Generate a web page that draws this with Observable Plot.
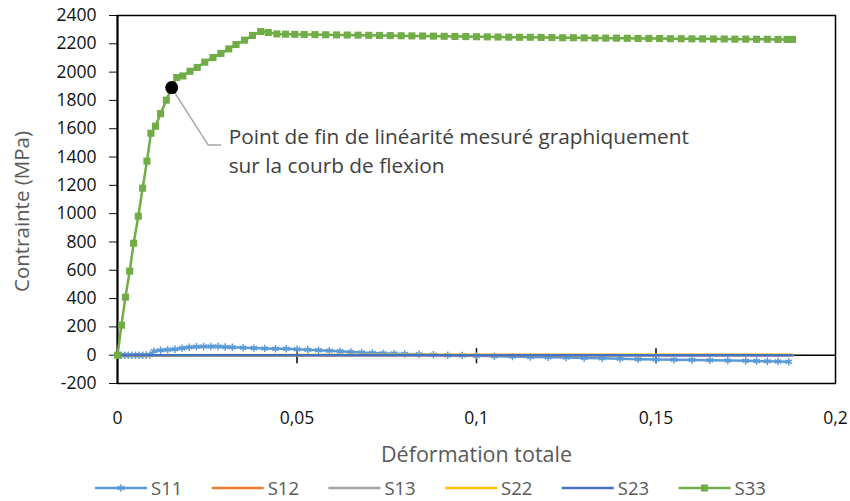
<!DOCTYPE html>
<html><head><meta charset="utf-8">
<script src="https://cdn.jsdelivr.net/npm/d3@7"></script>
<script src="https://cdn.jsdelivr.net/npm/@observablehq/plot@0.6"></script>
<style>body{margin:0;background:#fff;} #chart{width:850px;height:501px;overflow:hidden} #chart svg{display:block}</style>
</head><body><div id="chart"></div>
<script>
// ---- data ----
const seriesNames = ["S11", "S12", "S13", "S22", "S23", "S33"];
const seriesColors = ["#5B9BD5", "#ED7D31", "#A5A5A5", "#FFC000", "#4472C4", "#70AD47"];

const s33Strain = [0, 0.0011, 0.0022, 0.0034, 0.0045, 0.0058, 0.0070, 0.0082, 0.0093, 0.0106, 0.0120, 0.0136, 0.0151, 0.0165, 0.0182, 0.0202, 0.0222, 0.0243, 0.0266, 0.0288, 0.0310, 0.0330, 0.0354, 0.0376, 0.0399, 0.0420, 0.0444, 0.0468, 0.0494,
  0.052, 0.055, 0.058, 0.061, 0.064, 0.067, 0.070, 0.073, 0.076, 0.079, 0.082, 0.085, 0.088, 0.091, 0.094, 0.097, 0.100, 0.103, 0.106, 0.109, 0.112, 0.115, 0.118, 0.121, 0.124, 0.127, 0.130, 0.133, 0.136, 0.139, 0.142, 0.145, 0.148, 0.151, 0.154, 0.157, 0.160, 0.163, 0.166, 0.169, 0.172, 0.175, 0.178, 0.181, 0.184, 0.1865, 0.188];
const s33Stress = [0, 212, 410, 594, 791, 982, 1180, 1371, 1568, 1618, 1707, 1802, 1891, 1962, 1973, 2006, 2033, 2070, 2103, 2132, 2164, 2195, 2226, 2259, 2287, 2280, 2270, 2268, 2267,
  2266, 2265, 2264, 2263, 2262, 2261, 2260, 2259, 2258, 2257, 2256, 2255, 2254, 2253, 2252, 2251, 2250, 2249, 2248, 2247, 2246, 2246, 2245, 2244, 2243, 2243, 2242, 2241, 2240, 2240, 2239, 2238, 2238, 2237, 2236, 2236, 2235, 2235, 2234, 2234, 2233, 2233, 2232, 2232, 2231, 2231, 2231];

const s11Strain = [0, 0.001, 0.002, 0.003, 0.004, 0.005, 0.006, 0.007, 0.008, 0.009, 0.0101, 0.012, 0.014, 0.016, 0.018, 0.020, 0.022, 0.024, 0.026, 0.028, 0.030, 0.032, 0.035, 0.038, 0.041, 0.044, 0.047, 0.050, 0.053, 0.056, 0.059, 0.062, 0.065, 0.068, 0.071, 0.074, 0.077, 0.080, 0.084, 0.088, 0.092, 0.096, 0.100, 0.105, 0.110, 0.115, 0.120, 0.125, 0.130, 0.135, 0.140, 0.145, 0.150, 0.155, 0.160, 0.165, 0.170, 0.175, 0.178, 0.181, 0.184, 0.187];
const s11Stress = [0, -1, -1, -1, -1, 0, 0, 0, 1, 2, 28, 35, 38, 42, 50, 56, 60, 62, 62, 61, 58, 56, 53, 50, 48, 46, 45, 42, 39, 35, 31, 27, 23, 19, 16, 13, 11, 9, 6, 3, 0, -2, -4, -7, -10, -13, -15, -17, -20, -22, -25, -28, -30, -32, -34, -36, -38, -40, -41, -43, -44, -46];

const flatStrain = [0, 0.188];
const s12Stress = [0, 0];
const s13Stress = [0, 1];
const s22Stress = [0, 4];
const s23Stress = [0, 0];

const yTicks = [-200, 0, 200, 400, 600, 800, 1000, 1200, 1400, 1600, 1800, 2000, 2200, 2400];
const xTicks = [0, 0.05, 0.1, 0.15, 0.2];
const xTickLabels = ["0", "0,05", "0,1", "0,15", "0,2"];
const xCrossTicks = [0.05, 0.1, 0.15];

const calloutStrain = [0.0151];
const calloutStress = [1891];
const calloutText = "Point de fin de linéarité mesuré graphiquement\nsur la courb de flexion";
const xTitle = "Déformation totale";
const yTitle = "Contrainte (MPa)";

// ---- build tables ----
const rows = (xs, ys, name) => xs.map((x, i) => ({strain: x, stress: ys[i], series: name}));
const s11 = rows(s11Strain, s11Stress, "S11");
const s12 = rows(flatStrain, s12Stress, "S12");
const s13 = rows(flatStrain, s13Stress, "S13");
const s22 = rows(flatStrain, s22Stress, "S22");
const s23 = rows(flatStrain, s23Stress, "S23");
const s33 = rows(s33Strain, s33Stress, "S33");
const callout = calloutStrain.map((x, i) => ({strain: x, stress: calloutStress[i], text: calloutText}));

const FONT = "'Open Sans', sans-serif";
const vTick = {draw(ctx, size) { ctx.moveTo(0, -7); ctx.lineTo(0, 8); }};

const chart = Plot.plot({
  width: 850, height: 470,
  marginLeft: 117, marginRight: 15, marginTop: 15, marginBottom: 87,
  style: {fontFamily: FONT, background: "white", overflow: "visible"},
  x: {domain: [0, 0.2]},
  y: {domain: [-200, 2400]},
  marks: [
    Plot.frame({stroke: "black", strokeWidth: 1.5}),
    Plot.axisY({ticks: yTicks, tickSize: 8, tickPadding: 13, fontSize: 17.5, label: null, color: "#111", tickFormat: d => d3.format("d")(d).replace("−", "-")}),
    Plot.axisX({ticks: xTicks, tickSize: 0, tickPadding: 28, fontSize: 17.5, label: null, color: "#111", tickFormat: (d, i) => xTickLabels[xTicks.indexOf(d)]}),
    Plot.ruleX([0], {stroke: "black", strokeWidth: 2}),
    Plot.ruleY([0], {stroke: "black", strokeWidth: 1.5}),
    Plot.dot(xCrossTicks, {x: d => d, y: () => 0, symbol: vTick, stroke: "black", strokeWidth: 1.5, r: 5}),
    Plot.line(s11, {x: "strain", y: "stress", stroke: seriesColors[0], strokeWidth: 2.5}),
    Plot.dot(s11, {x: "strain", y: "stress", symbol: "asterisk", stroke: seriesColors[0], strokeWidth: 1.5, r: 3.5}),
    Plot.line(s12, {x: "strain", y: "stress", stroke: seriesColors[1], strokeWidth: 2.5}),
    Plot.line(s13, {x: "strain", y: "stress", stroke: seriesColors[2], strokeWidth: 2.5}),
    Plot.line(s22, {x: "strain", y: "stress", stroke: seriesColors[3], strokeWidth: 2.5}),
    Plot.line(s23, {x: "strain", y: "stress", stroke: seriesColors[4], strokeWidth: 2.5}),
    Plot.line(s33, {x: "strain", y: "stress", stroke: seriesColors[5], strokeWidth: 2.5}),
    Plot.dot(s33, {x: "strain", y: "stress", symbol: "square", fill: seriesColors[5], r: 4}),
    (index, scales) => {
      const px = scales.x(calloutStrain[0]), py = scales.y(calloutStress[0]);
      return d3.create("svg:path")
        .attr("d", `M${px},${py}L${px + 37},${py + 58}H${px + 50}`)
        .attr("stroke", "#A6A6A6").attr("stroke-width", 1.5).attr("fill", "none").node();
    },
    Plot.dot(callout, {x: "strain", y: "stress", r: 6.5, fill: "black"}),
    Plot.text(callout, {x: "strain", y: "stress", text: "text", dx: 57, dy: 36, textAnchor: "start", lineAnchor: "top", lineHeight: 1.39, fontSize: 20.8, fill: "#404040"}),
    Plot.text([yTitle], {frameAnchor: "left", rotate: -90, dx: -95, dy: 12, textAnchor: "middle", lineAnchor: "middle", fontSize: 20.5, fill: "#595959"}),
    Plot.text([xTitle], {frameAnchor: "bottom", dy: 72, textAnchor: "middle", lineAnchor: "middle", fontSize: 21.5, fill: "#595959"})
  ]
});

document.getElementById("chart").appendChild(chart);

// ---- legend below the plot ----
const legend = d3.create("svg").attr("width", 850).attr("height", 31).style("display", "block").style("font-family", FONT);
seriesNames.forEach((name, i) => {
  const x0 = 95 + i * 116.7, cy = 18;
  const g = legend.append("g");
  g.append("line").attr("x1", x0).attr("x2", x0 + 52).attr("y1", cy).attr("y2", cy).attr("stroke", seriesColors[i]).attr("stroke-width", 2.5);
  if (name === "S11") {
    g.append("path").attr("d", d3.symbol(d3.symbolAsterisk, 40)()).attr("transform", `translate(${x0 + 26},${cy})`).attr("stroke", seriesColors[i]).attr("stroke-width", 1.5).attr("fill", "none");
  }
  if (name === "S33") {
    g.append("rect").attr("x", x0 + 26 - 3.5).attr("y", cy - 3.5).attr("width", 7).attr("height", 7).attr("fill", seriesColors[i]);
  }
  g.append("text").attr("x", x0 + 56).attr("y", cy).attr("dy", "0.36em").attr("font-size", 18.5).attr("fill", "#595959").text(name);
});
document.getElementById("chart").appendChild(legend.node());
</script></body></html>
